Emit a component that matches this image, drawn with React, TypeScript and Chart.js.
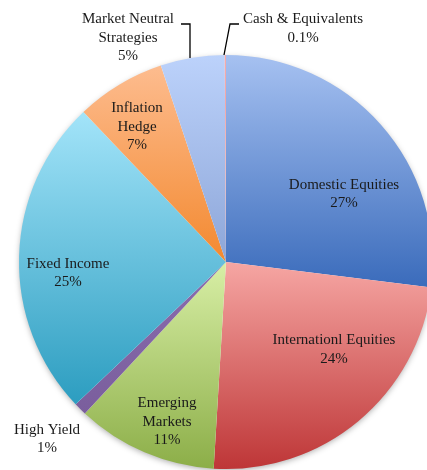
import React, { useEffect, useRef } from "react";
import { Chart, registerables } from "chart.js";

Chart.register(...registerables);

const categories = [
  "Domestic Equities",
  "Internationl Equities",
  "Emerging Markets",
  "High Yield",
  "Fixed Income",
  "Inflation Hedge",
  "Market Neutral Strategies",
  "Cash & Equivalents",
];
const values = [27, 24, 11, 1, 25, 7, 5, 0.1];
const valueLabels = ["27%", "24%", "11%", "1%", "25%", "7%", "5%", "0.1%"];
const labelLines = [
  ["Domestic Equities"],
  ["Internationl Equities"],
  ["Emerging", "Markets"],
  ["High Yield"],
  ["Fixed Income"],
  ["Inflation", "Hedge"],
  ["Market Neutral", "Strategies"],
  ["Cash & Equivalents"],
];
// gradient colours [top, bottom]
const sliceColors: [string, string][] = [
  ["#A6C1F1", "#3A6BBB"],
  ["#F6A6A3", "#BE3637"],
  ["#D8EFA6", "#8CAE48"],
  ["#8A6DAD", "#7A5E9D"],
  ["#A3E4F9", "#2C9DC0"],
  ["#FDBC8F", "#F3892F"],
  ["#BCD2FB", "#8DA6D8"],
  ["#F5ABAB", "#EE9C9C"],
];

// label layout: offsets of label block centre from pie centre (reference px, radius 207)
const REF_R = 207;
const labelOffsets: [number, number][] = [
  [118, -68],
  [108, 87.5],
  [-59, 160],
  [-179, 177],
  [-158, 11],
  [-89, -135],
  [-98, -224],
  [77, -233.5],
];
// leader lines for small slices (reference px relative to centre)
const leaderLines: { index: number; pts: [number, number][] }[] = [
  { index: 6, pts: [[-45, -238], [-36, -238], [-36, -204]] },
  { index: 7, pts: [[-2, -207], [4, -238], [13, -238]] },
];

const FONT = '15px "Liberation Serif", "Times New Roman", serif';
const LINE_H = 18.5;

function sliceAngles(i: number) {
  const total = values.reduce((a, b) => a + b, 0);
  let cum = 0;
  for (let k = 0; k < i; k++) cum += values[k];
  const s = -Math.PI / 2 + (2 * Math.PI * cum) / total;
  const e = -Math.PI / 2 + (2 * Math.PI * (cum + values[i])) / total;
  return [s, e];
}

function sliceGradient(ctx: any) {
  const chart = ctx.chart;
  const i = ctx.dataIndex;
  const area = chart.chartArea;
  if (!area || i === undefined) return sliceColors[i ?? 0][0];
  const cx = (area.left + area.right) / 2;
  const cy = (area.top + area.bottom) / 2;
  const r = Math.min(area.right - area.left, area.bottom - area.top) / 2;
  const [s, e] = sliceAngles(i);
  const ys = [cy, cy + r * Math.sin(s), cy + r * Math.sin(e)];
  for (let a = -Math.PI * 2; a <= Math.PI * 4; a += Math.PI / 2) {
    if (a > s && a < e) ys.push(cy + r * Math.sin(a));
  }
  const top = Math.min(...ys);
  const bottom = Math.max(...ys);
  const g = chart.ctx.createLinearGradient(0, top, 0, Math.max(bottom, top + 1));
  g.addColorStop(0, sliceColors[i][0]);
  g.addColorStop(1, sliceColors[i][1]);
  return g;
}

const shadowPlugin = {
  id: "pieShadow",
  beforeDatasetsDraw(chart: any) {
    const meta = chart.getDatasetMeta(0);
    const arc = meta.data[0];
    if (!arc) return;
    const { x, y, outerRadius } = arc.getProps(["x", "y", "outerRadius"], true);
    const c = chart.ctx;
    c.save();
    c.shadowColor = "rgba(0,0,0,0.35)";
    c.shadowBlur = 6;
    c.shadowOffsetX = 0;
    c.shadowOffsetY = 2;
    c.beginPath();
    c.arc(x, y, outerRadius - 1, 0, Math.PI * 2);
    c.fillStyle = "#ffffff";
    c.fill();
    c.restore();
  },
};

const labelPlugin = {
  id: "sliceLabels",
  afterDatasetsDraw(chart: any) {
    const meta = chart.getDatasetMeta(0);
    const c = chart.ctx;
    c.save();
    c.font = FONT;
    c.fillStyle = "#1a1a1a";
    c.textAlign = "center";
    c.textBaseline = "middle";
    meta.data.forEach((arc: any, i: number) => {
      const { x, y, outerRadius } = arc.getProps(["x", "y", "outerRadius"], true);
      const k = outerRadius / REF_R;
      const lines = [...labelLines[i], valueLabels[i]];
      const bx = x + labelOffsets[i][0] * k;
      const by = y + labelOffsets[i][1] * k;
      const startY = by - ((lines.length - 1) * LINE_H) / 2;
      lines.forEach((t, j) => c.fillText(t, bx, startY + j * LINE_H));
    });
    c.strokeStyle = "#000000";
    c.lineWidth = 1.3;
    leaderLines.forEach((ll) => {
      const arc = meta.data[ll.index];
      if (!arc) return;
      const { x, y, outerRadius } = arc.getProps(["x", "y", "outerRadius"], true);
      const k = outerRadius / REF_R;
      c.beginPath();
      ll.pts.forEach((p, j) => {
        const px = x + p[0] * k;
        const py = y + p[1] * k;
        if (j === 0) c.moveTo(px, py);
        else c.lineTo(px, py);
      });
      c.stroke();
    });
    c.restore();
  },
};

export default function App() {
  const canvasRef = useRef<HTMLCanvasElement | null>(null);

  useEffect(() => {
    if (!canvasRef.current) return;
    const chart = new Chart(canvasRef.current, {
      type: "pie",
      data: {
        labels: categories,
        datasets: [
          {
            data: values,
            backgroundColor: sliceGradient as any,
            borderWidth: 0,
            hoverOffset: 0,
          },
        ],
      },
      options: {
        responsive: false,
        animation: false,
        devicePixelRatio: 1,
        layout: { padding: { left: 19, top: 55, right: 7, bottom: 11 } },
        plugins: {
          legend: { display: false },
          tooltip: { enabled: false },
        },
      },
      plugins: [shadowPlugin, labelPlugin],
    });
    return () => chart.destroy();
  }, []);

  return (
    <div
      style={{
        position: "fixed",
        left: 0,
        top: 0,
        width: 427,
        height: 470,
        overflow: "hidden",
        background: "#ffffff",
      }}
    >
      <canvas ref={canvasRef} width={440} height={480} style={{ display: "block" }} />
    </div>
  );
}
